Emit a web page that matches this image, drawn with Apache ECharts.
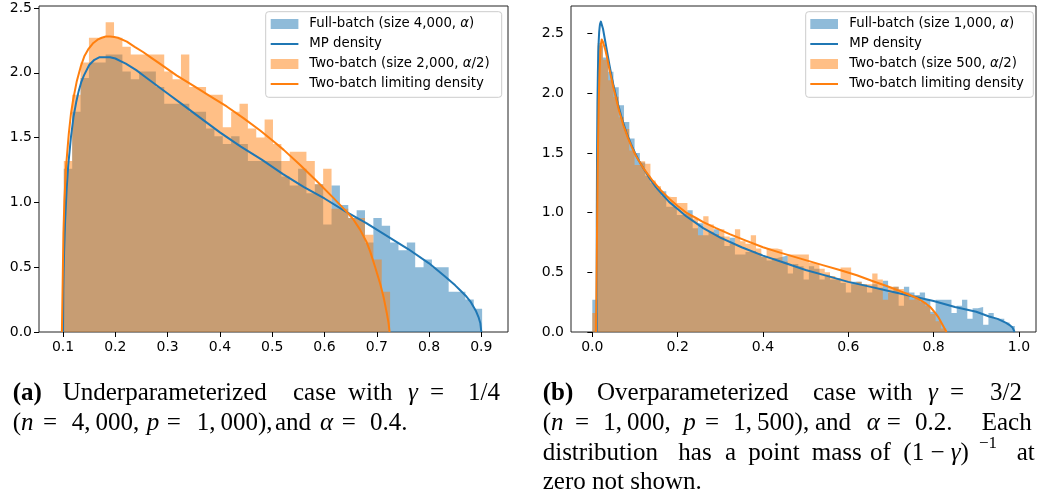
<!DOCTYPE html>
<html>
<head>
<meta charset="utf-8">
<script src="https://cdn.jsdelivr.net/npm/echarts@6.0.0/dist/echarts.min.js"></script>
<style>
  html, body { margin: 0; padding: 0; background: #fff; }
  #chart { width: 1037px; height: 496px; }
</style>
</head>
<body>
<div id="chart"></div>
<script>
// ---------------- data ----------------
// (a) underparameterized: histogram bins (common bins)
const BIN_START_A = 0.1015;
const BIN_WIDTH_A = 0.016;
const FULL_A = [1.26, 1.70, 1.96, 2.08, 2.08, 2.14, 2.14, 2.01, 1.95, 2.01,
                2.01, 1.89, 1.76, 1.76, 1.76, 1.70, 1.70, 1.57, 1.51, 1.45,
                1.51, 1.45, 1.32, 1.32, 1.32, 1.32, 1.20, 1.13, 1.26, 1.07,
                1.14, 0.83, 1.13, 0.98, 0.88, 0.94, 0.69, 0.88, 0.82, 0.69,
                0.63, 0.69, 0.50, 0.56, 0.50, 0.50, 0.31, 0.31, 0.25, 0.18];
const TWO_A = [1.32, 1.83, 2.08, 2.27, 2.27, 2.39, 2.27, 2.20, 2.14, 2.14,
               2.14, 2.14, 2.01, 1.95, 2.14, 1.89, 1.89, 1.83, 1.83, 1.58,
               1.70, 1.76, 1.57, 1.50, 1.64, 1.45, 1.32, 1.39, 1.39, 1.32,
               1.14, 1.26, 0.95, 0.95, 0.88, 0.88, 0.75, 0.56, 0.31];
const MP_A = [[0.1,0],[0.1005,0.32],[0.101,0.45],[0.102,0.62],[0.104,0.86],[0.107,1.11],[0.11,1.29],
  [0.115,1.50],[0.12,1.66],[0.125,1.77],[0.13,1.86],[0.135,1.93],[0.14,1.98],[0.15,2.06],[0.16,2.10],
  [0.17,2.12],[0.18,2.12],[0.19,2.12],[0.2,2.11],[0.21,2.09],[0.22,2.07],[0.24,2.02],[0.26,1.96],
  [0.28,1.90],[0.3,1.84],[0.33,1.75],[0.36,1.66],[0.4,1.54],[0.44,1.43],[0.48,1.33],[0.52,1.22],
  [0.56,1.12],[0.6,1.03],[0.64,0.93],[0.68,0.84],[0.72,0.74],[0.76,0.64],[0.8,0.53],[0.83,0.43],
  [0.85,0.36],[0.86,0.32],[0.87,0.28],[0.88,0.23],[0.89,0.16],[0.895,0.11],[0.898,0.07],[0.9,0]];
const LIM_A = [[0.0978,0],[0.0988,0.25],[0.1007,0.76],[0.1026,1.02],[0.1058,1.28],[0.111,1.53],
  [0.1150,1.68],[0.1192,1.79],[0.126,1.93],[0.134,2.05],[0.141,2.13],[0.148,2.18],[0.158,2.23],
  [0.166,2.255],[0.174,2.27],[0.182,2.28],[0.19,2.28],[0.198,2.275],[0.205,2.27],[0.222,2.24],
  [0.237,2.20],[0.253,2.16],[0.269,2.115],[0.285,2.07],[0.317,1.98],[0.349,1.90],[0.381,1.82],
  [0.413,1.74],[0.445,1.65],[0.477,1.555],[0.5,1.48],[0.522,1.405],[0.553,1.29],[0.585,1.165],
  [0.617,1.035],[0.643,0.925],[0.655,0.87],[0.668,0.79],[0.681,0.69],[0.6875,0.62],[0.697,0.50],
  [0.7067,0.37],[0.713,0.27],[0.7195,0.14],[0.7225,0.07],[0.7245,0]];

// (b) overparameterized
const BIN_START_B = 0.0;
const BIN_WIDTH_B = 0.01238;
const FULL_B = [0.27, 2.40, 2.30, 2.18, 2.05, 1.90, 1.76, 1.62, 1.50, 1.42,
                1.31, 1.25, 1.20, 1.18, 1.05, 1.05, 0.98, 0.99, 1.02, 0.87,
                0.91, 0.81, 0.84, 0.86, 0.80, 0.72, 0.79, 0.65, 0.65, 0.67,
                0.68, 0.66, 0.63, 0.60, 0.62, 0.63, 0.64, 0.49, 0.57, 0.55,
                0.44, 0.55, 0.53, 0.44, 0.48, 0.44, 0.45, 0.41, 0.33, 0.42,
                0.42, 0.40, 0.33, 0.40, 0.37, 0.43, 0.33, 0.38, 0.22, 0.38,
                0.33, 0.31, 0.33, 0.27, 0.17, 0.27, 0.27, 0.27, 0.16, 0.22,
                0.27, 0.11, 0.20, 0.21, 0.06, 0.16, 0.11, 0.11, 0.08, 0.05];
const TWO_B = [0.16, 2.42, 2.28, 2.11, 1.97, 1.80, 1.70, 1.52, 1.40, 1.43,
               1.41, 1.27, 1.22, 1.14, 1.13, 1.13, 1.08, 1.08, 0.98, 0.95,
               0.81, 0.97, 0.90, 0.82, 0.86, 0.80, 0.74, 0.86, 0.76, 0.74,
               0.81, 0.70, 0.63, 0.70, 0.70, 0.69, 0.59, 0.65, 0.65, 0.65,
               0.65, 0.58, 0.57, 0.53, 0.50, 0.47, 0.45, 0.54, 0.54, 0.40,
               0.42, 0.40, 0.40, 0.49, 0.44, 0.27, 0.38, 0.38, 0.36, 0.33,
               0.27, 0.30, 0.25, 0.22, 0.15, 0.09, 0.03];
const MP_B = [[0.0101,0],[0.0105,1.0],[0.011,1.43],[0.012,1.91],[0.013,2.17],[0.014,2.34],[0.015,2.44],
  [0.016,2.51],[0.017,2.55],[0.018,2.58],[0.019,2.595],[0.02,2.60],[0.021,2.597],[0.022,2.59],
  [0.025,2.54],[0.03,2.44],[0.035,2.34],[0.04,2.24],[0.045,2.145],[0.05,2.06],[0.06,1.91],[0.07,1.78],
  [0.08,1.67],[0.09,1.58],[0.1,1.50],[0.11,1.43],[0.12,1.37],[0.135,1.285],[0.15,1.21],[0.165,1.15],
  [0.18,1.09],[0.2,1.03],[0.22,0.97],[0.24,0.92],[0.26,0.87],[0.28,0.83],[0.3,0.79],[0.35,0.71],
  [0.4,0.64],[0.45,0.58],[0.5,0.52],[0.55,0.47],[0.6,0.42],[0.65,0.38],[0.7,0.34],[0.75,0.30],
  [0.8,0.26],[0.85,0.21],[0.9,0.17],[0.93,0.13],[0.95,0.11],[0.97,0.076],[0.98,0.053],[0.985,0.037],
  [0.9899,0]];
const LIM_B = [[0.0085,0],[0.0095,0.27],[0.011,0.83],[0.0126,1.39],[0.015,1.94],[0.0173,2.22],
  [0.019,2.35],[0.02,2.41],[0.022,2.45],[0.025,2.43],[0.03,2.37],[0.035,2.29],[0.04,2.20],
  [0.05,2.04],[0.063,1.85],[0.073,1.73],[0.083,1.63],[0.093,1.545],[0.103,1.47],[0.122,1.36],
  [0.142,1.265],[0.16,1.19],[0.181,1.115],[0.2,1.055],[0.22,1.00],[0.243,0.955],[0.26,0.92],
  [0.29,0.87],[0.322,0.82],[0.36,0.765],[0.4,0.71],[0.44,0.665],[0.478,0.625],[0.502,0.60],
  [0.54,0.56],[0.58,0.52],[0.62,0.475],[0.658,0.425],[0.69,0.385],[0.72,0.345],[0.744,0.31],
  [0.76,0.285],[0.772,0.26],[0.783,0.235],[0.792,0.21],[0.799,0.18],[0.806,0.15],[0.811,0.125],
  [0.8186,0.075],[0.8263,0.025],[0.8303,0]];

// ticks
const X_TICKS_A = [0.1, 0.2, 0.3, 0.4, 0.5, 0.6, 0.7, 0.8, 0.9];
const X_TICKS_B = [0.0, 0.2, 0.4, 0.6, 0.8, 1.0];
const Y_TICKS = [0.0, 0.5, 1.0, 1.5, 2.0, 2.5];

// legend labels
const LEGEND_A = ['Full-batch (size 4,000, {i|α})', 'MP density', 'Two-batch (size 2,000, {i|α}/2)', 'Two-batch limiting density'];
const LEGEND_B = ['Full-batch (size 1,000, {i|α})', 'MP density', 'Two-batch (size 500, {i|α}/2)', 'Two-batch limiting density'];

// ---------------- helpers ----------------
const BLUE = '#1f77b4', ORANGE = '#ff7f0e';
const BLUE_FILL = 'rgba(31,119,180,0.5)', ORANGE_FILL = 'rgba(255,127,14,0.5)';
const SANS = 'DejaVu Sans';
const SERIF = 'Liberation Serif';
const TICK_FS = 14;
const LEG_FS = 13.3;
const TS = '\u2009';

function histPoints(start, width, heights) {
  const pts = heights.map((h, i) => [start + i * width, h]);
  pts.push([start + heights.length * width, heights[heights.length - 1]]);
  return pts;
}
function histSeries(idx, start, width, heights, fill) {
  return {
    type: 'line', xAxisIndex: idx, yAxisIndex: idx, step: 'end',
    data: histPoints(start, width, heights), symbol: 'none', showSymbol: false,
    lineStyle: { opacity: 0, width: 0 }, areaStyle: { color: fill, opacity: 1 },
    silent: true, animation: false
  };
}
function curveSeries(idx, pts, color) {
  return {
    type: 'line', xAxisIndex: idx, yAxisIndex: idx, data: pts, symbol: 'none', showSymbol: false,
    smooth: false,
    lineStyle: { color: color, width: 2, join: 'round' }, silent: true, animation: false
  };
}
function xAxisCfg(idx, min, max, ticks) {
  return {
    gridIndex: idx, type: 'value', min: min, max: max,
    axisLine: { show: false }, splitLine: { show: false },
    axisTick: { show: true, customValues: ticks, length: 5, lineStyle: { color: '#000', width: 1 } },
    axisLabel: { customValues: ticks, formatter: v => Number(v).toFixed(1), margin: 8,
                 fontSize: TICK_FS, fontFamily: SANS, color: '#000' }
  };
}
function yAxisCfg(idx, max) {
  return {
    gridIndex: idx, type: 'value', min: 0, max: max,
    axisLine: { show: false }, splitLine: { show: false },
    axisTick: { show: true, customValues: Y_TICKS, length: 5, lineStyle: { color: '#000', width: 1 } },
    axisLabel: { customValues: Y_TICKS, formatter: v => Number(v).toFixed(1), margin: 7,
                 fontSize: TICK_FS, fontFamily: SANS, color: '#000' }
  };
}

function legendGraphic(boxX, boxY, boxW, boxH, patchX, textX, labels) {
  const els = [{
    type: 'rect', shape: { x: boxX, y: boxY, width: boxW, height: boxH, r: 3 },
    style: { fill: 'rgba(255,255,255,0.8)', stroke: '#cccccc', lineWidth: 1 }, z: 100
  }];
  const rows = [24, 44, 64, 84];
  const kinds = [['patch', BLUE_FILL], ['line', BLUE], ['patch', ORANGE_FILL], ['line', ORANGE]];
  labels.forEach((lab, i) => {
    const y = rows[i];
    if (kinds[i][0] === 'patch') {
      els.push({ type: 'rect', shape: { x: patchX, y: y - 5, width: 27.7, height: 10 },
                 style: { fill: kinds[i][1] }, z: 101 });
    } else {
      els.push({ type: 'line', shape: { x1: patchX, y1: y, x2: patchX + 27.7, y2: y },
                 style: { stroke: kinds[i][1], lineWidth: 2 }, z: 101 });
    }
    els.push({ type: 'text', x: textX, y: y, z: 101,
      style: { text: lab, fontFamily: SANS, fontSize: LEG_FS, fill: '#000',
               align: 'left', verticalAlign: 'middle',
               rich: { i: { fontFamily: SANS, fontSize: LEG_FS, fontStyle: 'italic', fill: '#000' } } } });
  });
  return els;
}

// caption words: [x, y, rich text]
const CAP_SIZE = 25;
const CAPTION_WORDS = [
  [12.7, 393.5, '{b|(a)}'], [62.7, 393.5, 'Underparameterized'], [293, 393.5, 'case'], [348, 393.5, 'with'],
  [408, 393.5, '{i|γ}'], [430, 393.5, '='], [468, 393.5, '1/4'],
  [12.7, 423, '({i|n}'], [43, 423, '='], [71.7, 423, '4,' + TS + '000,'], [146.7, 423, '{i|p}'], [166.7, 423, '='],
  [196.7, 423, '1,' + TS + '000),'], [275, 423, 'and'], [320, 423, '{i|α}'], [341.7, 423, '='], [370, 423, '0.4.'],
  [542.7, 393.5, '{b|(b)}'], [597, 393.5, 'Overparameterized'], [813, 393.5, 'case'], [868, 393.5, 'with'],
  [928, 393.5, '{i|γ}'], [950, 393.5, '='], [990, 393.5, '3/2'],
  [542.7, 423, '({i|n}'], [575, 423, '='], [603.3, 423, '1,' + TS + '000,'], [683.3, 423, '{i|p}'], [705, 423, '='],
  [733.3, 423, '1,' + TS + '500),'], [815, 423, 'and'], [866.7, 423, '{i|α}'], [886.7, 423, '='], [915, 423, '0.2.'],
  [981.7, 423, 'Each'],
  [542.7, 453, 'distribution'], [678.3, 453, 'has'], [725, 453, 'a'], [748.3, 453, 'point'], [811.7, 453, 'mass'],
  [870, 453, 'of'], [903.3, 453, '(1 − {i|γ})'], [1016.7, 453, 'at'],
  [542.7, 482.5, 'zero not shown.']
];

function captionGraphic() {
  const els = CAPTION_WORDS.map(w => ({
    type: 'text', x: w[0], y: w[1], z: 100,
    style: { text: w[2], fontFamily: SERIF, fontSize: CAP_SIZE, fill: '#000',
             align: 'left', verticalAlign: 'middle',
             rich: {
               b: { fontFamily: SERIF, fontSize: CAP_SIZE, fontWeight: 'bold', fill: '#000' },
               i: { fontFamily: SERIF, fontSize: CAP_SIZE, fontStyle: 'italic', fill: '#000' }
             } }
  }));
  els.push({ type: 'text', x: 979, y: 444, z: 100,
    style: { text: '−1', fontFamily: SERIF, fontSize: 17, fill: '#000', align: 'left', verticalAlign: 'middle' } });
  return els;
}

// ---------------- chart ----------------
const chart = echarts.init(document.getElementById('chart'), null, { renderer: 'canvas' });
chart.setOption({
  animation: false,
  backgroundColor: '#ffffff',
  grid: [
    { left: 39, top: 6, width: 469, height: 326, show: true, borderColor: '#222', borderWidth: 1, backgroundColor: 'transparent' },
    { left: 571, top: 6, width: 465, height: 326, show: true, borderColor: '#222', borderWidth: 1, backgroundColor: 'transparent' }
  ],
  xAxis: [ xAxisCfg(0, 0.054, 0.951, X_TICKS_A), xAxisCfg(1, -0.05, 1.04, X_TICKS_B) ],
  yAxis: [ yAxisCfg(0, 2.515), yAxisCfg(1, 2.731) ],
  series: [
    histSeries(0, BIN_START_A, BIN_WIDTH_A, FULL_A, BLUE_FILL),
    histSeries(0, BIN_START_A, BIN_WIDTH_A, TWO_A, ORANGE_FILL),
    curveSeries(0, MP_A, BLUE),
    curveSeries(0, LIM_A, ORANGE),
    histSeries(1, BIN_START_B, BIN_WIDTH_B, FULL_B, BLUE_FILL),
    histSeries(1, BIN_START_B, BIN_WIDTH_B, TWO_B, ORANGE_FILL),
    curveSeries(1, MP_B, BLUE),
    curveSeries(1, LIM_B, ORANGE)
  ],
  graphic: [].concat(
    legendGraphic(265.7, 11.7, 236, 85.6, 270.7, 309.3, LEGEND_A),
    legendGraphic(805.7, 11.7, 227.6, 85.6, 810.3, 849.3, LEGEND_B),
    captionGraphic()
  )
});
</script>
</body>
</html>
